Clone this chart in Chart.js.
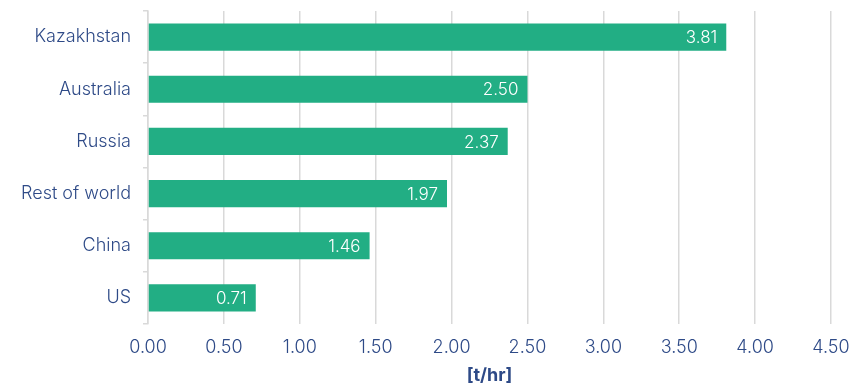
<!DOCTYPE html>
<html>
<head>
<meta charset="utf-8">
<script src="https://cdn.jsdelivr.net/npm/chart.js@4.4.1/dist/chart.umd.min.js"></script>
<style>
    html, body { margin: 0; padding: 0; background: #fff; }
    .wrap { width: 851px; height: 387px; }
</style>
</head>
<body>
<div class="wrap"><canvas id="dataChart"></canvas></div>
<script>
    var countries = ["Kazakhstan", "Australia", "Russia", "Rest of world", "China", "US"];
    var output = [3.81, 2.50, 2.37, 1.97, 1.46, 0.71];
    var unitLabel = "[t/hr]";

    var textColor = "#2E4A87";
    var fontFamily = "Inter, 'Noto Sans', sans-serif";

    // white value text inside the end of each bar
    var barValues = {
        id: "barValues",
        afterDatasetsDraw: function (chart) {
            var ctx = chart.ctx;
            var meta = chart.getDatasetMeta(0);
            ctx.save();
            ctx.fillStyle = "#ffffff";
            ctx.font = "300 17px " + fontFamily;
            ctx.textAlign = "right";
            ctx.textBaseline = "middle";
            meta.data.forEach(function (bar, i) {
                ctx.fillText(output[i].toFixed(2), bar.x - 9, bar.y + 1);
            });
            ctx.restore();
        }
    };

    var ctx = document.getElementById("dataChart");
    var myChart = new Chart(ctx, {
        type: "bar",
        data: {
            labels: countries,
            datasets: [{
                data: output,
                backgroundColor: "#22AE84",
                barPercentage: 0.52,
                categoryPercentage: 1
            }]
        },
        options: {
            indexAxis: "y",
            responsive: true,
            maintainAspectRatio: false,
            animation: false,
            layout: { padding: { left: 0, right: 20, top: 11, bottom: 0 } },
            plugins: {
                legend: { display: false },
                tooltip: { enabled: false }
            },
            scales: {
                x: {
                    min: 0,
                    max: 4.5,
                    ticks: {
                        stepSize: 0.5,
                        color: textColor,
                        font: { family: fontFamily, size: 18, weight: 300 },
                        padding: 13,
                        callback: function (v) { return Number(v).toFixed(2); }
                    },
                    grid: { color: "#D9D9D9", lineWidth: 1.5, tickLength: 0 },
                    border: { display: false },
                    title: {
                        display: true,
                        text: unitLabel,
                        color: textColor,
                        font: { family: fontFamily, size: 18, weight: "bold" },
                        padding: { top: 4, bottom: 1 }
                    },
                    afterFit: function (scale) {
                        scale.height = 63;
                        scale.paddingLeft = 0;
                        scale.paddingRight = 0;
                    }
                },
                y: {
                    ticks: {
                        color: textColor,
                        font: { family: fontFamily, size: 18, weight: 300 },
                        padding: 12
                    },
                    grid: { drawOnChartArea: false, color: "#D9D9D9", lineWidth: 1.5, tickLength: 5, offset: true },
                    border: { display: true, color: "#D9D9D9", width: 1.5 },
                    afterFit: function (scale) {
                        scale.width = 148;
                        scale.paddingTop = 0;
                        scale.paddingBottom = 0;
                    }
                }
            }
        },
        plugins: [barValues]
    });
</script>
</body>
</html>
